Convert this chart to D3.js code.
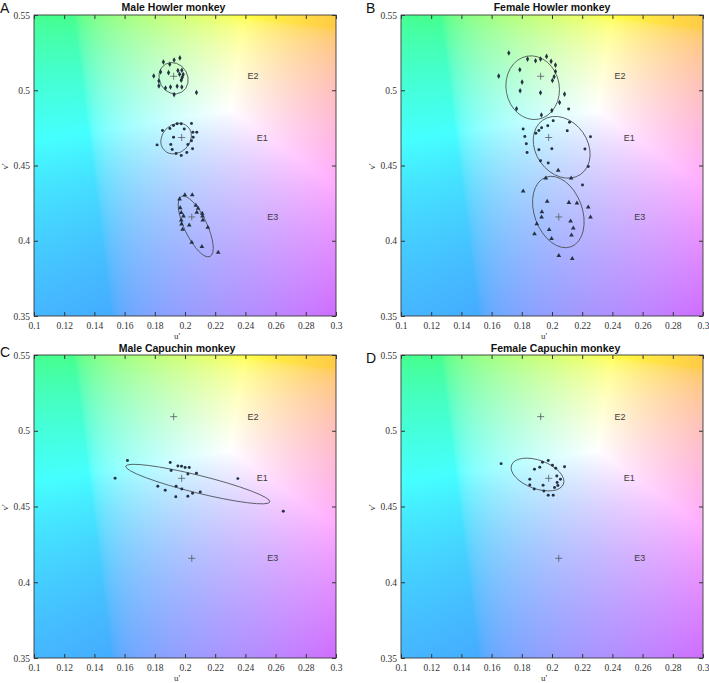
<!DOCTYPE html>
<html>
<head>
<meta charset="utf-8">
<script src="https://cdn.jsdelivr.net/npm/d3@7"></script>
<style>
body { margin: 0; background: #fff; }
svg { display: block; }
</style>
</head>
<body>
<svg width="709" height="683"></svg>
<script>
// values, all in CIE u'v'
let xTicks = [0.1, 0.12, 0.14, 0.16, 0.18, 0.2, 0.22, 0.24, 0.26, 0.28, 0.3];
let yTicks = [0.35, 0.4, 0.45, 0.5, 0.55];

let refNames = ["E1", "E2", "E3"];
let refU = [0.1978, 0.1925, 0.2045];
let refV = [0.4686, 0.5093, 0.4158];
let labelU = [0.2512, 0.2450, 0.2582];

let maleHowlerE2 = [[0.1857,0.5188],[0.1899,0.5173],[0.1928,0.5201],[0.1966,0.5215],[0.1793,0.5095],[0.1838,0.5122],[0.1891,0.5117],[0.1953,0.5131],[0.1979,0.5133],[0.1964,0.5106],[0.1988,0.5104],[0.1981,0.5084],[0.1975,0.5066],[0.1827,0.5062],[0.1827,0.5029],[0.1871,0.5015],[0.1904,0.5022],[0.1948,0.5027],[0.1979,0.5022],[0.1928,0.4971],[0.2076,0.4985]];
let maleHowlerE1 = [[0.1815,0.4637],[0.1851,0.4732],[0.1900,0.4746],[0.1924,0.4766],[0.1948,0.4777],[0.1975,0.4777],[0.1995,0.4743],[0.2043,0.4779],[0.2052,0.4721],[0.2078,0.4721],[0.1924,0.4688],[0.1906,0.4639],[0.1915,0.4606],[0.1941,0.4580],[0.1975,0.4566],[0.2012,0.4586],[0.2019,0.4639],[0.2043,0.4664],[0.2050,0.4611],[0.2054,0.4688]];
let maleHowlerE3 = [[0.1999,0.4305],[0.2048,0.4305],[0.1964,0.4277],[0.2072,0.4235],[0.2087,0.4215],[0.2078,0.4188],[0.2114,0.4181],[0.2116,0.4164],[0.2118,0.4137],[0.1968,0.4219],[0.1975,0.4186],[0.1990,0.4164],[0.1975,0.4137],[0.1977,0.4111],[0.1984,0.4075],[0.2028,0.4104],[0.2151,0.4089],[0.2045,0.3989],[0.2112,0.3960],[0.2220,0.3923]];

let femaleHowlerE2 = [[0.1647,0.5094],[0.1714,0.5247],[0.1787,0.5136],[0.1802,0.5054],[0.1789,0.4997],[0.1765,0.4877],[0.1838,0.5207],[0.1891,0.5196],[0.1924,0.5207],[0.1964,0.5225],[0.1994,0.5192],[0.2023,0.5167],[0.2023,0.5125],[0.2014,0.5090],[0.2003,0.5065],[0.1924,0.4983],[0.2083,0.4974],[0.2050,0.4919],[0.1999,0.4866],[0.1930,0.4835]];
let femaleHowlerE1 = [[0.1809,0.4742],[0.1820,0.4693],[0.1830,0.4644],[0.1835,0.4586],[0.1893,0.4715],[0.1913,0.4733],[0.1931,0.4751],[0.1972,0.4764],[0.2008,0.4797],[0.2116,0.4788],[0.2101,0.4731],[0.2255,0.4691],[0.1913,0.4604],[0.1999,0.4611],[0.1924,0.4531],[0.1975,0.4516],[0.2110,0.4875],[0.2218,0.4609],[0.2240,0.4493],[0.2202,0.4371]];
let femaleHowlerE3 = [[0.1809,0.4329],[0.1959,0.4416],[0.2041,0.4467],[0.2127,0.4416],[0.1968,0.4261],[0.2112,0.4254],[0.2165,0.4250],[0.2240,0.4223],[0.2255,0.4156],[0.1933,0.4192],[0.1931,0.4156],[0.1899,0.4112],[0.1884,0.4045],[0.1981,0.4074],[0.1997,0.4014],[0.2123,0.4130],[0.2141,0.4083],[0.2129,0.4037],[0.2045,0.3901],[0.2134,0.3881]];

let maleCapuchinE1 = [[0.1619,0.4803],[0.1537,0.4686],[0.1902,0.4790],[0.1953,0.4768],[0.1977,0.4766],[0.2001,0.4757],[0.2028,0.4757],[0.1908,0.4737],[0.2019,0.4715],[0.2076,0.4719],[0.2350,0.4684],[0.1820,0.4633],[0.1869,0.4607],[0.1941,0.4633],[0.1979,0.4616],[0.1939,0.4565],[0.2019,0.4567],[0.2050,0.4587],[0.2101,0.4596],[0.2651,0.4468]];
let femaleCapuchinE1 = [[0.1663,0.4783],[0.1853,0.4680],[0.1853,0.4642],[0.1884,0.4746],[0.1919,0.4759],[0.1937,0.4792],[0.1975,0.4803],[0.2003,0.4772],[0.2025,0.4753],[0.2083,0.4763],[0.2032,0.4702],[0.2056,0.4680],[0.2034,0.4658],[0.2039,0.4638],[0.2017,0.4625],[0.1941,0.4640],[0.1882,0.4616],[0.1946,0.4603],[0.1975,0.4574],[0.2008,0.4574]];

// ellipses: centre u, centre v, semi-axis a, semi-axis b, tilt (deg)
let maleHowlerEllipses = [[0.1924,0.5080,0.0107,0.0094,60],[0.1941,0.4679,0.0110,0.0092,-45],[0.2071,0.4095,0.0220,0.0075,64.6]];
let femaleHowlerEllipses = [[0.1872,0.5017,0.0212,0.0177,80],[0.2064,0.4621,0.0219,0.0172,55],[0.2042,0.4191,0.0245,0.0159,70]];
let maleCapuchinEllipses = [[0.2085,0.4648,0.0492,0.0058,13.9]];
let femaleCapuchinEllipses = [[0.1904,0.4711,0.0183,0.0094,20]];

let svg = d3.select("svg");

let panels = [
    { letter: "A", title: "Male Howler monkey", box: [34, 15, 336, 316], titleX: 173.5, titleY: 10.5, letterXY: [0, 13],
      sets: [[maleHowlerE1, d3.symbolCircle], [maleHowlerE2, d3.symbolDiamond], [maleHowlerE3, d3.symbolTriangle]], ellipses: maleHowlerEllipses },
    { letter: "B", title: "Female Howler monkey", box: [401, 15, 703, 316], titleX: 552, titleY: 10.5, letterXY: [366, 13.3],
      sets: [[femaleHowlerE1, d3.symbolCircle], [femaleHowlerE2, d3.symbolDiamond], [femaleHowlerE3, d3.symbolTriangle]], ellipses: femaleHowlerEllipses },
    { letter: "C", title: "Male Capuchin monkey", box: [34, 355, 336, 658], titleX: 177, titleY: 351.5, letterXY: [0, 356.5],
      sets: [[maleCapuchinE1, d3.symbolCircle]], ellipses: maleCapuchinEllipses },
    { letter: "D", title: "Female Capuchin monkey", box: [401, 355, 703, 658], titleX: 555.5, titleY: 352, letterXY: [366, 362.7],
      sets: [[femaleCapuchinE1, d3.symbolCircle]], ellipses: femaleCapuchinEllipses }
];

// u'v' -> linear sRGB at Y = 1
function uvLinear(u, v) {
    let d = 6 * u - 16 * v + 12, x = 9 * u / d, y = 4 * v / d;
    let X = x / y, Z = (1 - x - y) / y;
    return [3.2406 * X - 1.5372 - 0.4986 * Z,
            -0.9689 * X + 1.8758 + 0.0415 * Z,
            0.0557 * X - 0.2040 + 1.0570 * Z];
}
let whiteRGB = uvLinear(0.23, 0.487);
function gammaEnc(c) { return c <= 0.0031308 ? 12.92 * c : 1.055 * Math.pow(c, 1 / 2.4) - 0.055; }
function uvColor(u, v) {
    let c = uvLinear(u, v).map((k, i) => Math.max(0, k / whiteRGB[i]));
    let m = Math.max(c[0], c[1], c[2]);
    return c.map(k => Math.round(255 * (0.27 + 0.73 * gammaEnc(k / m))));
}

function backdrop(g, x, y) {
    let x0 = x.range()[0], y0 = y.range()[1];
    let w = x.range()[1] - x0, h = y.range()[0] - y0;
    let cv = document.createElement("canvas");
    cv.width = w; cv.height = h;
    let ctx = cv.getContext("2d"), img = ctx.createImageData(w, h);
    for (let j = 0; j < h; j++) {
        for (let i = 0; i < w; i++) {
            let c = uvColor(x.invert(x0 + i + 0.5), y.invert(y0 + j + 0.5));
            let k = 4 * (j * w + i);
            img.data[k] = c[0]; img.data[k + 1] = c[1]; img.data[k + 2] = c[2]; img.data[k + 3] = 255;
        }
    }
    ctx.putImageData(img, 0, 0);
    g.append("image")
        .attr("x", x0).attr("y", y0)
        .attr("width", w).attr("height", h)
        .attr("preserveAspectRatio", "none")
        .attr("href", cv.toDataURL());
}

let fmt = d => String(+d.toFixed(2));

panels.forEach(p => {
    let [left, top, right, bottom] = p.box;
    let x = d3.scaleLinear().domain([0.1, 0.3]).range([left, right]);
    let y = d3.scaleLinear().domain([0.35, 0.55]).range([bottom, top]);
    let g = svg.append("g");

    backdrop(g, x, y);

    // ellipses
    g.selectAll(".ell")
        .data(p.ellipses)
        .enter()
        .append("ellipse")
        .attr("cx", d => x(d[0]))
        .attr("cy", d => y(d[1]))
        .attr("rx", d => x(d[0] + d[2]) - x(d[0]))
        .attr("ry", d => y(d[1]) - y(d[1] + d[3]))
        .attr("transform", d => `rotate(${d[4]},${x(d[0])},${y(d[1])})`)
        .attr("fill", "none")
        .attr("stroke", "#4a4f55")
        .attr("stroke-width", 0.8);

    // points
    p.sets.forEach(([pts, shape]) => {
        let size = shape === d3.symbolCircle ? 7 : shape === d3.symbolDiamond ? 9 : 9.5;
        g.selectAll(null)
            .data(pts)
            .enter()
            .append("path")
            .attr("d", d3.symbol().type(shape).size(size))
            .attr("transform", d => `translate(${x(d[0])},${y(d[1])})`)
            .attr("fill", "#263244");
    });

    // reference crosses
    g.selectAll(".cross")
        .data(refU)
        .enter()
        .append("path")
        .attr("d", (d, i) => {
            let cx = x(d), cy = y(refV[i]);
            return `M${cx - 3.5},${cy}H${cx + 3.5}M${cx},${cy - 3.5}V${cy + 3.5}`;
        })
        .attr("stroke", "#555a60")
        .attr("stroke-width", 0.8);

    g.selectAll(".lab")
        .data(refNames)
        .enter()
        .append("text")
        .attr("x", (d, i) => x(labelU[i]))
        .attr("y", (d, i) => y(refV[i]))
        .attr("dy", "0.35em")
        .attr("text-anchor", "middle")
        .style("font", "9px 'Liberation Sans', Arial, sans-serif")
        .style("fill", "#3c3c3c")
        .text(d => d);

    // axes, ticks pointing inward on all four sides
    let axStyle = a => {
        a.select(".domain").remove();
        a.selectAll("line").attr("stroke", "#333");
        a.selectAll("text")
            .style("font-family", "'Liberation Serif', 'Times New Roman', serif")
            .style("font-size", "9.5px")
            .style("fill", "#333");
    };
    g.append("g").attr("transform", `translate(0,${bottom})`)
        .call(d3.axisBottom(x).tickValues(xTicks).tickFormat(fmt).tickSizeInner(-4).tickSizeOuter(0).tickPadding(6))
        .call(axStyle);
    g.append("g").attr("transform", `translate(0,${top})`)
        .call(d3.axisTop(x).tickValues(xTicks).tickFormat("").tickSizeInner(-4).tickSizeOuter(0))
        .call(axStyle);
    g.append("g").attr("transform", `translate(${left},0)`)
        .call(d3.axisLeft(y).tickValues(yTicks).tickFormat(fmt).tickSizeInner(-4).tickSizeOuter(0).tickPadding(4))
        .call(axStyle);
    g.append("g").attr("transform", `translate(${right},0)`)
        .call(d3.axisRight(y).tickValues(yTicks).tickFormat("").tickSizeInner(-4).tickSizeOuter(0))
        .call(axStyle);

    g.append("rect")
        .attr("x", left).attr("y", top)
        .attr("width", right - left).attr("height", bottom - top)
        .attr("fill", "none")
        .attr("stroke", "#3a3a3a")
        .attr("stroke-width", 0.9);

    // axis labels
    g.append("text")
        .attr("x", (left + right) / 2 - 8)
        .attr("y", bottom + 23)
        .attr("text-anchor", "middle")
        .style("font", "9px 'Liberation Serif', serif")
        .style("fill", "#333")
        .text("u'");
    g.append("text")
        .attr("transform", `translate(${left - 26},${(top + bottom) / 2 + 1}) rotate(-90)`)
        .attr("text-anchor", "middle")
        .style("font", "9px 'Liberation Serif', serif")
        .style("fill", "#333")
        .text("v'");

    g.append("text")
        .attr("x", p.titleX)
        .attr("y", p.titleY)
        .attr("text-anchor", "middle")
        .style("font", "bold 10.5px 'Liberation Sans', Arial, sans-serif")
        .style("fill", "#111")
        .text(p.title);

    g.append("text")
        .attr("x", p.letterXY[0])
        .attr("y", p.letterXY[1])
        .style("font", "14px 'Liberation Sans', Arial, sans-serif")
        .style("fill", "#111")
        .text(p.letter);
});
</script>
</body>
</html>
